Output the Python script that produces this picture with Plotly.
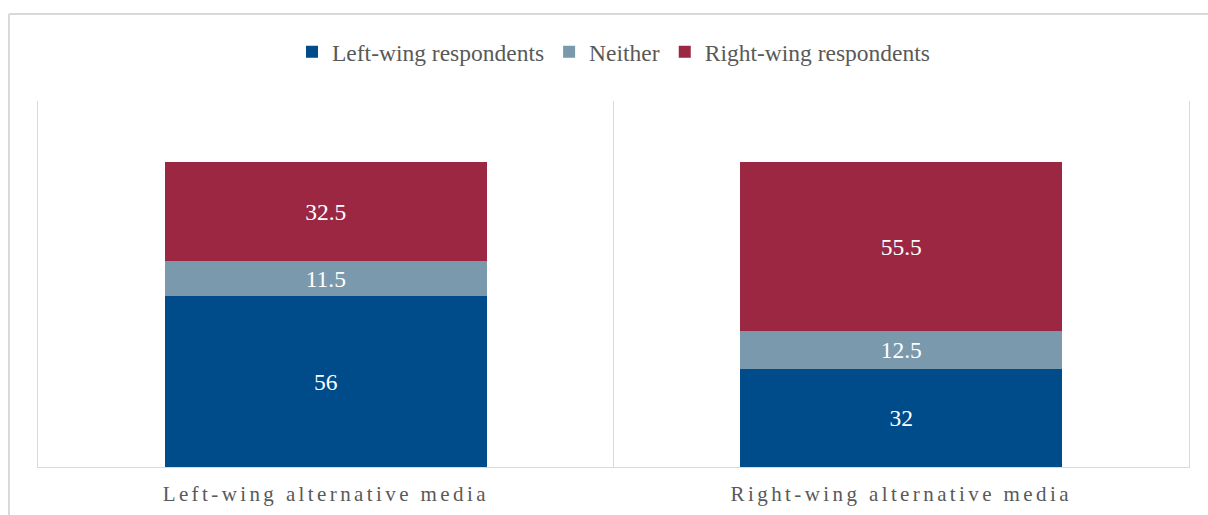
import plotly.graph_objects as go

# Survey shares (%) by outlet type
categories = ["Left-wing alternative media", "Right-wing alternative media"]
series_names = ["Left-wing respondents", "Neither", "Right-wing respondents"]
left_wing = [56, 32]
neither = [11.5, 12.5]
right_wing = [32.5, 55.5]

colors = ["#004b8a", "#7b99ad", "#9b2743"]
font_family = "Liberation Serif"
gray_text = "#595959"
line_gray = "#d9d9d9"

W, H = 1208, 515
ML, MR, MT, MB = 38, 19, 101, 48
plot_w = W - ML - MR
plot_h = H - MT - MB

fig = go.Figure()
for name, vals, col in zip(series_names, [left_wing, neither, right_wing], colors):
    fig.add_trace(go.Bar(
        x=categories, y=vals, name=name,
        marker=dict(color=col, line=dict(width=0)),
        width=0.56,
        text=vals, textposition="inside", insidetextanchor="middle",
        textangle=0, constraintext="none",
        textfont=dict(family=font_family, size=23.5, color="white"),
        hoverinfo="skip",
    ))

# outer chart frame (top and left edges visible)
fx = (9 - ML) / plot_w
fy = (H - MB - 14) / plot_h
frame = dict(type="line", xref="paper", yref="paper",
             line=dict(color=line_gray, width=2), layer="above")
shapes = [
    dict(frame, x0=fx, x1=fx, y0=-0.5, y1=fy),
    dict(frame, x0=fx, x1=1.2, y0=fy, y1=fy),
]

fig.update_layout(
    width=W, height=H,
    margin=dict(l=ML, r=MR, t=MT, b=MB, autoexpand=False),
    barmode="stack",
    bargap=0.44,
    plot_bgcolor="white", paper_bgcolor="white",
    font=dict(family=font_family, color=gray_text),
    showlegend=True,
    legend=dict(
        orientation="h", x=0.5, xanchor="center",
        y=(H - MB - 52) / plot_h, yanchor="middle",
        traceorder="normal",
        font=dict(family=font_family, size=23.5, color=gray_text),
    ),
    xaxis=dict(
        type="category", range=[-0.5, 1.5],
        automargin=False,
        showline=True, linecolor=line_gray, linewidth=1,
        showgrid=True, gridcolor=line_gray, gridwidth=1,
        tickson="boundaries", ticks="",
        ticklabelstandoff=8,
        tickfont=dict(family=font_family, size=21, color=gray_text),
        fixedrange=True,
    ),
    yaxis=dict(
        range=[0, 120], showgrid=False, zeroline=False,
        automargin=False,
        showticklabels=False, ticks="",
        showline=True, mirror=True, linecolor=line_gray, linewidth=1,
        fixedrange=True,
    ),
    shapes=shapes,
)

spacing_js = """
document.querySelectorAll('.xtick text').forEach(function(t){
  t.style.letterSpacing = '3.4px';
});
"""

fig.write_html("out.html", post_script=spacing_js, config={"displayModeBar": False})
